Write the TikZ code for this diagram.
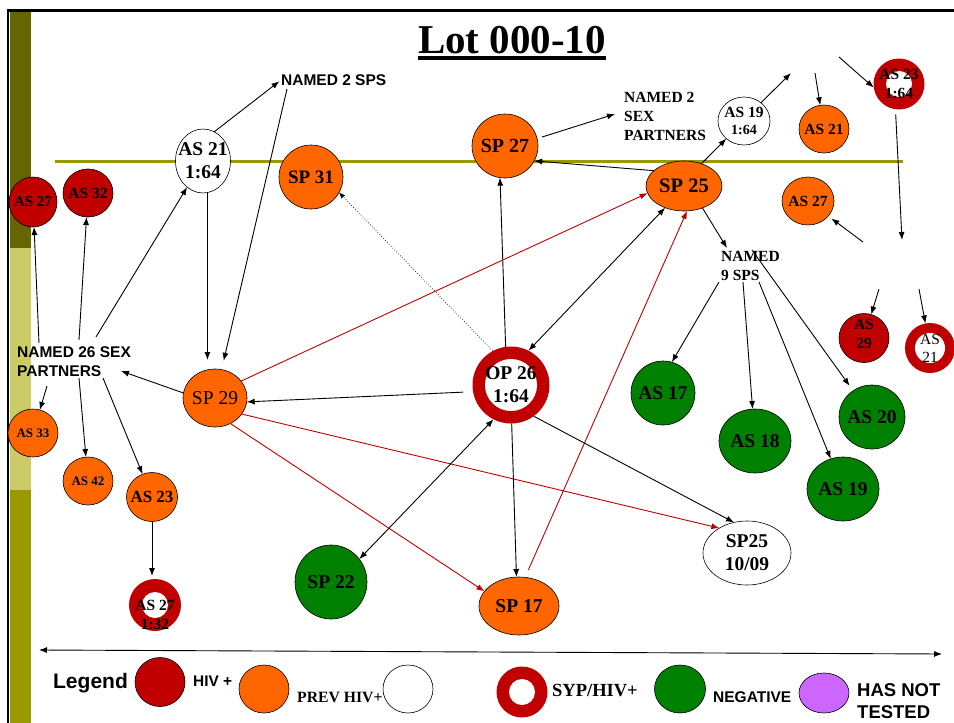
\documentclass[tikz,border=0pt]{standalone}
\usepackage{fontspec}
\setmainfont{Liberation Serif}
\newfontfamily\arialfont{Liberation Sans}
\usetikzlibrary{shapes.geometric,arrows.meta,calc}
\definecolor{hivred}{HTML}{C00000}
\definecolor{prevor}{HTML}{FF6600}
\definecolor{neggreen}{HTML}{008000}
\definecolor{untested}{HTML}{CC66FF}
\definecolor{olivec}{HTML}{999900}
\definecolor{darkolive}{HTML}{666600}
\definecolor{paleolive}{HTML}{CCCC66}
\newcommand{\myfs}[2]{\fontsize{#1}{#2}\selectfont}
\begin{document}
\begin{tikzpicture}[x=1pt,y=-1pt,
  oval/.style 2 args={ellipse,draw=black,line width=0.6pt,inner sep=0pt,outer sep=0pt,minimum width=#1,minimum height=#2},
  ring/.style 2 args={circle,fill=hivred,inner sep=0pt,outer sep=0pt,minimum size=#1,
     path picture={\fill[white] (path picture bounding box.center) circle[radius=#2pt];}},
  lb/.style 2 args={align=center,inner sep=0pt,font=\bfseries\myfs{#1}{#2}},
  lr/.style 2 args={align=center,inner sep=0pt,font=\myfs{#1}{#2}},
  sanslbl/.style={inner sep=0pt,font=\arialfont\bfseries\myfs{#1}{19}},
  seriflbl/.style={inner sep=0pt,font=\bfseries\myfs{#1}{19}},
  arr/.style={draw=black,line width=0.9pt,-{Latex[length=8pt,width=6pt]}},
  dbl/.style={draw=black,line width=0.9pt,{Latex[length=8pt,width=6pt]}-{Latex[length=8pt,width=6pt]}},
  rarr/.style={draw=hivred,line width=0.9pt,-{Latex[length=8pt,width=6pt]}},
  dotarr/.style={draw=black,line width=0.7pt,dotted,-{Latex[length=6pt,width=5pt]}}
]
\useasboundingbox (0,0) rectangle (954,723);
% frame and sidebar
\fill[darkolive] (10,11) rectangle (31,248);
\fill[paleolive] (10,248) rectangle (31,490);
\fill[olivec] (10,490) rectangle (31,723);
\draw[line width=3pt] (7,10) -- (954,10);
\draw[line width=2pt] (8,10) -- (8,723);
\draw[olivec,line width=3pt] (55,161) -- (903,161);
% title
\node[font=\bfseries\myfs{41}{44},anchor=base,inner sep=0pt] (title) at (512,53) {Lot 000-10};
\draw[line width=3.5pt] ([yshift=-5pt]title.base west) -- ([yshift=-5pt]title.base east);

% nodes
\node[oval={48}{50},fill=hivred,label={[lb={15}{18}]center:AS 27}] (as27L) at (33,202) {};
\node[oval={50}{48},fill=hivred,label={[lb={15.5}{18}]center:AS 32}] (as32) at (88,193) {};
\node[oval={55}{64},fill=white,label={[lb={19.5}{23}]center:{AS 21\\1:64}}] (as21) at (203,161) {};
\node[oval={64}{64},fill=prevor,label={[lb={19}{23}]center:SP 31}] (sp31) at (311,177) {};
\node[oval={66}{64},fill=prevor,label={[lb={20}{23}]center:SP 27}] (sp27) at (505,146) {};
\node[oval={52}{48},fill=white,label={[lb={15.5}{17}]center:{AS 19\\{\myfs{14}{17}1:64}}}] (as19w) at (744,121) {};
\node[oval={50}{48},fill=prevor,label={[lb={15.5}{18}]center:AS 21}] (as21r) at (824,129) {};
\node[ring={51}{13},label={[lb={15.5}{19}]center:{AS 23\\1:64}}] (as23r) at (899,84) {};
\node[oval={76}{50},fill=prevor,label={[lb={20.5}{23}]center:SP 25}] (sp25) at (684,186) {};
\node[oval={52}{48},fill=prevor,label={[lb={15.5}{18}]center:AS 27}] (as27r) at (808,201) {};
\node[oval={50}{49},fill=hivred,label={[lb={15.5}{19},yshift=4pt]center:{AS\\29}}] (as29) at (864,338) {};
\node[ring={50}{15},label={[lr={15.5}{18}]center:{AS\\21}}] (as21g) at (930,348) {};
\node[oval={64}{64},fill=neggreen,label={[lb={19.5}{23}]center:AS 17}] (as17) at (663,393) {};
\node[oval={72}{64},fill=neggreen,label={[lb={19.5}{23}]center:AS 18}] (as18) at (755,441) {};
\node[oval={66}{64},fill=neggreen,label={[lb={19.5}{23}]center:AS 20}] (as20) at (872,417) {};
\node[oval={72}{64},fill=neggreen,label={[lb={19.5}{23}]center:AS 19}] (as19g) at (843,489) {};
\node[ring={77}{26},label={[lb={19.5}{23}]center:{OP 26\\1:64}}] (op26) at (511,385) {};
\node[oval={64}{58},fill=prevor,label={[lr={19.5}{23}]center:SP 29}] (sp29) at (215,398) {};
\node[oval={50}{48},fill=prevor,label={[lb={13}{16}]center:AS 33}] (as33) at (33,433) {};
\node[oval={50}{48},fill=prevor,label={[lb={13}{16}]center:AS 42}] (as42) at (88,481) {};
\node[oval={51}{49},fill=prevor,label={[lb={17}{20}]center:AS 23}] (as23) at (152,497) {};
\node[ring={52}{13},label={[lb={15.5}{19},yshift=-10pt]center:{AS 27\\1:32}}] (as27b) at (155,605) {};
\node[oval={72}{74},fill=neggreen,label={[lb={19.5}{23}]center:SP 22}] (sp22) at (331,582) {};
\node[oval={80}{58},fill=prevor,label={[lb={19.5}{23}]center:SP 17}] (sp17) at (519,606) {};
\node[oval={88}{64},fill=white,label={[lb={19.5}{23}]center:{SP25\\10/09}}] (sp2509) at (747,553) {};

% text nodes
\node[sanslbl=15.5,anchor=west] (n2sps) at (281,80) {NAMED 2 SPS};
\node[seriflbl=15.5,anchor=west,align=left] (n2sex) at (624,116) {NAMED 2\\SEX\\PARTNERS};
\node[seriflbl=15.5,anchor=west,align=left] (n9) at (721,266) {NAMED\\9 SPS};
\node[sanslbl=15.5,anchor=west,align=left] (n26) at (17,362) {NAMED 26 SEX\\PARTNERS};

% free ends
\coordinate (p1) at (39,343);
\coordinate (p2) at (79,340);
\coordinate (p3) at (96,337);
\coordinate (p5) at (287,89);
\coordinate (p13) at (121,371);
\coordinate (p14) at (47,386);
\coordinate (p15) at (79,378);
\coordinate (p16) at (103,378);
\coordinate (p24) at (615,114);
\coordinate (p26) at (791,73);
\coordinate (p27) at (815,73);
\coordinate (p28) at (839,57);
\coordinate (p29) at (902,240);
\coordinate (p30) at (863,242);
\coordinate (p31) at (879,289);
\coordinate (p32) at (919,289);
\coordinate (p33) at (727,248);
\coordinate (p34) at (719,282);
\coordinate (p35) at (743,282);
\coordinate (p36) at (759,282);
\coordinate (p37) at (752,250);

% connectors
\draw[arr] (p1) -- (as27L);
\draw[arr] (p2) -- (as32);
\draw[arr] (p3) -- (as21);
\draw[arr,shorten >=9pt] (as21.-82) -- (as21.-82 |- sp29.north);
\draw[arr,shorten >=9pt] (p5) -- (sp29);
\draw[arr,shorten >=2pt] (as21.69) -- (n2sps.west);
\draw[dotarr] (op26.118) -- (sp31.-29);
\draw[arr] (op26.98) -- (sp27.-99);
\draw[dbl] (op26.63) -- (sp25.-131);
\draw[rarr] (sp29.33) -- (sp25.-169);
\draw[rarr,shorten <=8pt] (sp17.78) -- (sp25.-83);
\draw[arr,shorten <=10pt] (op26.-170) -- (sp29.-7);
\draw[arr] (sp29.171) -- (p13);
\draw[arr] (p14) -- (as33);
\draw[arr] (p15) -- (as42);
\draw[arr] (p16) -- (as23);
\draw[arr,shorten >=3pt] (as23.south) -- (as23.south |- as27b.north);
\draw[rarr] (sp29.-59) -- (sp17.157);
\draw[rarr] (sp29.-31) -- (sp2509.138);
\draw[dbl] (sp22.39) -- (op26.-117);
\draw[arr] (op26.-89) -- (sp17.95);
\draw[arr] (op26.-54) -- (sp2509.113);
\draw[arr] (sp25.153) -- (sp27.-27);
\draw[arr,shorten <=5pt] (sp27.13) -- (p24);
\draw[arr] (sp25.52) -- (as19w.-135);
\draw[arr] (as19w.47) -- (p26);
\draw[arr] (p27) -- (as21r);
\draw[arr] (p28) -- (as23r.-172);
\draw[arr,shorten <=5pt] (as23r.-98) -- (p29);
\draw[arr,shorten >=4pt] (p30) -- (as27r);
\draw[arr] (p31) -- (as29);
\draw[arr] (p32) -- (as21g);
\draw[arr] (sp25.-50) -- (p33);
\draw[arr] (p34) -- (as17.74);
\draw[arr] (p35) -- (as18);
\draw[arr] (p36) -- (as19g);
\draw[arr,shorten >=6pt] (p37) -- (as20);

% legend
\coordinate (la) at (39,650);
\coordinate (lb) at (942,654);
\draw[dbl] (la) -- (lb);
\node[inner sep=0pt,font=\arialfont\bfseries\myfs{21}{24}] (leg) at (90.5,683) {Legend};
\node[oval={50}{49},fill=hivred] (lg1) at (160,682) {};
\node[sanslbl=15.4,anchor=west] (lg1t) at (193,681) {HIV +};
\node[oval={50}{48},fill=prevor] (lg2) at (264,689) {};
\node[seriflbl=15.7,anchor=west] (lg2t) at (297,697) {PREV HIV+};
\node[oval={50}{48},fill=white] (lg3) at (408,689) {};
\node[ring={51}{13}] (lg4) at (522,692) {};
\node[seriflbl=18.5,anchor=west] (lg4t) at (552,691) {SYP/HIV+};
\node[oval={51}{48},fill=neggreen] (lg5) at (680,689) {};
\node[sanslbl=15.5,anchor=west] (lg5t) at (713,697) {NEGATIVE};
\node[oval={50}{40},fill=untested] (lg6) at (824,693) {};
\node[inner sep=0pt,font=\arialfont\bfseries\myfs{18.5}{22},anchor=west,align=left] (lg6t) at (857,701) {HAS NOT\\TESTED};
\end{tikzpicture}
\end{document}
